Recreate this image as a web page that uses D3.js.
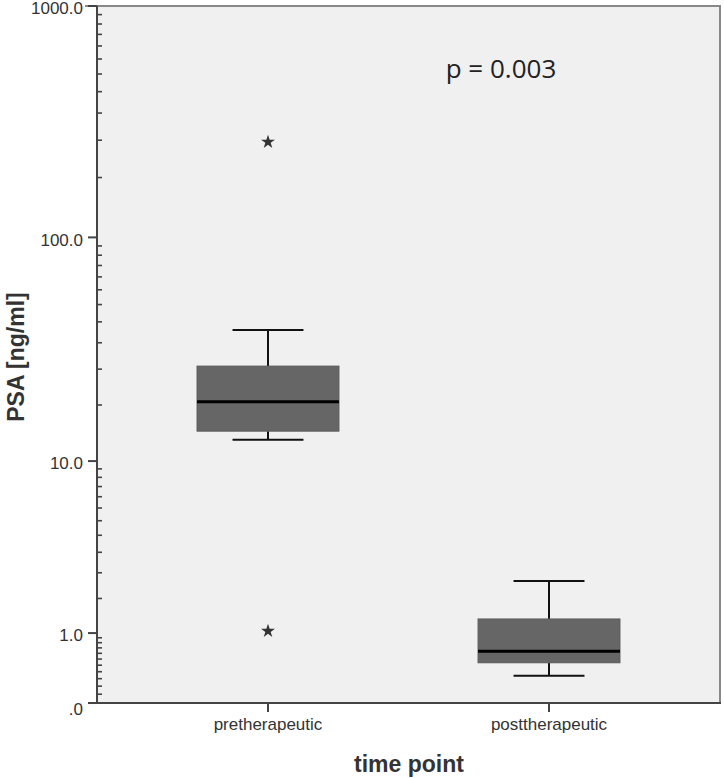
<!DOCTYPE html>
<html><head><meta charset="utf-8">
<script src="https://cdn.jsdelivr.net/npm/d3@7"></script>
<style>body{margin:0;background:#fff}svg{display:block}</style>
</head><body>
<script>
const categories = ["pretherapeutic", "posttherapeutic"];
const whiskerLow = [12.6, 0.31];
const q1 = [13.8, 0.49];
const medians = [18.8, 0.67];
const q3 = [27.2, 1.30];
const whiskerHigh = [39.3, 2.35];
const outlierCat = ["pretherapeutic", "pretherapeutic"];
const outlierVal = [259, 1.04];
const majorTicks = [0, 1, 10, 100, 1000];
const majorLabels = [".0", "1.0", "10.0", "100.0", "1000.0"];
const pText = "p = 0.003";

const W = 724, H = 778;
const L = 97, R = 720, T = 6, B = 703;
const svg = d3.select("body").append("svg").attr("width", W).attr("height", H);

// SPSS safe-log transform: log10(1+v)
const y = d3.scaleLinear().domain([0, Math.log10(1001)]).range([B, T]);
const yv = v => y(Math.log10(1 + v));
const x = d3.scaleBand().domain(categories).range([L, R]).paddingInner(0.495).paddingOuter(0.356);

svg.append("rect").attr("x", L).attr("y", T).attr("width", R - L).attr("height", B - T).attr("fill", "#f0f0f0");
svg.append("line").attr("x1", 85).attr("x2", R + 1).attr("y1", T).attr("y2", T).attr("stroke", "#888").attr("stroke-width", 2);
svg.append("line").attr("x1", R).attr("x2", R).attr("y1", T).attr("y2", B).attr("stroke", "#888").attr("stroke-width", 2);

// minor ticks: 10 per decade, 11 equal linear intervals
const minor = [];
for (let d = 0; d < 4; d++) {
  const lo = d === 0 ? 0 : Math.pow(10, d - 1), hi = Math.pow(10, d);
  for (let k = 1; k <= 10; k++) minor.push(lo + (hi - lo) * k / 11);
}
const yAxisG = svg.append("g");
yAxisG.selectAll("line.minor").data(minor).join("line").attr("class", "minor")
  .attr("x1", L).attr("x2", L + 5).attr("y1", d => yv(d)).attr("y2", d => yv(d))
  .attr("stroke", "#444").attr("stroke-width", 1.6);
yAxisG.selectAll("line.major").data(majorTicks).join("line").attr("class", "major")
  .attr("x1", L - 9).attr("x2", L).attr("y1", d => yv(d)).attr("y2", d => yv(d))
  .attr("stroke", "#444").attr("stroke-width", 2);
yAxisG.selectAll("text").data(majorTicks).join("text")
  .attr("x", L - 14).attr("y", d => yv(d)).attr("dy", (d, i) => i === 0 ? "0.72em" : "0.48em")
  .attr("text-anchor", "end").attr("font-family", "Liberation Sans, Arial, sans-serif")
  .attr("font-size", 17).attr("fill", "#333").text((d, i) => majorLabels[i]);
svg.append("line").attr("x1", L).attr("x2", L).attr("y1", T).attr("y2", B + 1).attr("stroke", "#444").attr("stroke-width", 2);

// x axis
svg.append("line").attr("x1", L - 9).attr("x2", R + 1).attr("y1", B).attr("y2", B).attr("stroke", "#444").attr("stroke-width", 2);
const xc = c => x(c) + x.bandwidth() / 2;
svg.selectAll("line.xt").data(categories).join("line").attr("class", "xt")
  .attr("x1", xc).attr("x2", xc).attr("y1", B).attr("y2", B + 9).attr("stroke", "#444").attr("stroke-width", 2);
svg.selectAll("text.xl").data(categories).join("text").attr("class", "xl")
  .attr("x", xc).attr("y", 730).attr("text-anchor", "middle")
  .attr("font-family", "Liberation Sans, Arial, sans-serif").attr("font-size", 17).attr("fill", "#333").text(d => d);

// boxes
const boxes = svg.append("g").selectAll("g").data(categories).join("g");
const capW = x.bandwidth() / 2;
boxes.append("line").attr("x1", xc).attr("x2", xc).attr("y1", (d, i) => yv(whiskerHigh[i])).attr("y2", (d, i) => yv(q3[i])).attr("stroke", "#111").attr("stroke-width", 2);
boxes.append("line").attr("x1", xc).attr("x2", xc).attr("y1", (d, i) => yv(whiskerLow[i])).attr("y2", (d, i) => yv(q1[i])).attr("stroke", "#111").attr("stroke-width", 2);
boxes.append("line").attr("x1", d => xc(d) - capW / 2).attr("x2", d => xc(d) + capW / 2).attr("y1", (d, i) => yv(whiskerHigh[i])).attr("y2", (d, i) => yv(whiskerHigh[i])).attr("stroke", "#111").attr("stroke-width", 2);
boxes.append("line").attr("x1", d => xc(d) - capW / 2).attr("x2", d => xc(d) + capW / 2).attr("y1", (d, i) => yv(whiskerLow[i])).attr("y2", (d, i) => yv(whiskerLow[i])).attr("stroke", "#111").attr("stroke-width", 2);
boxes.append("rect").attr("x", d => x(d)).attr("width", x.bandwidth())
  .attr("y", (d, i) => yv(q3[i])).attr("height", (d, i) => yv(q1[i]) - yv(q3[i]))
  .attr("fill", "#666").attr("stroke", "#5a5a5a").attr("stroke-width", 1);
boxes.append("line").attr("x1", d => x(d)).attr("x2", d => x(d) + x.bandwidth()).attr("y1", (d, i) => yv(medians[i])).attr("y2", (d, i) => yv(medians[i])).attr("stroke", "#000").attr("stroke-width", 3);

// outliers
svg.selectAll("path.out").data(outlierVal).join("path").attr("class", "out")
  .attr("transform", (d, i) => `translate(${xc(outlierCat[i])},${yv(d)})`)
  .attr("d", d3.symbol().type(d3.symbolStar).size(60)).attr("fill", "#333");

svg.append("text").attr("x", 501).attr("y", 78).attr("text-anchor", "middle")
  .attr("font-family", "Open Sans, Noto Sans, sans-serif").attr("font-size", 26).attr("fill", "#222").text(pText);

svg.append("text").attr("x", 409).attr("y", 772).attr("text-anchor", "middle")
  .attr("font-family", "Liberation Sans, Arial, sans-serif").attr("font-weight", "bold").attr("font-size", 23).attr("fill", "#333").text("time point");
svg.append("text").attr("transform", "translate(24,357) rotate(-90)").attr("text-anchor", "middle")
  .attr("font-family", "Liberation Sans, Arial, sans-serif").attr("font-weight", "bold").attr("font-size", 23).attr("fill", "#333").text("PSA [ng/ml]");
</script>
</body></html>
